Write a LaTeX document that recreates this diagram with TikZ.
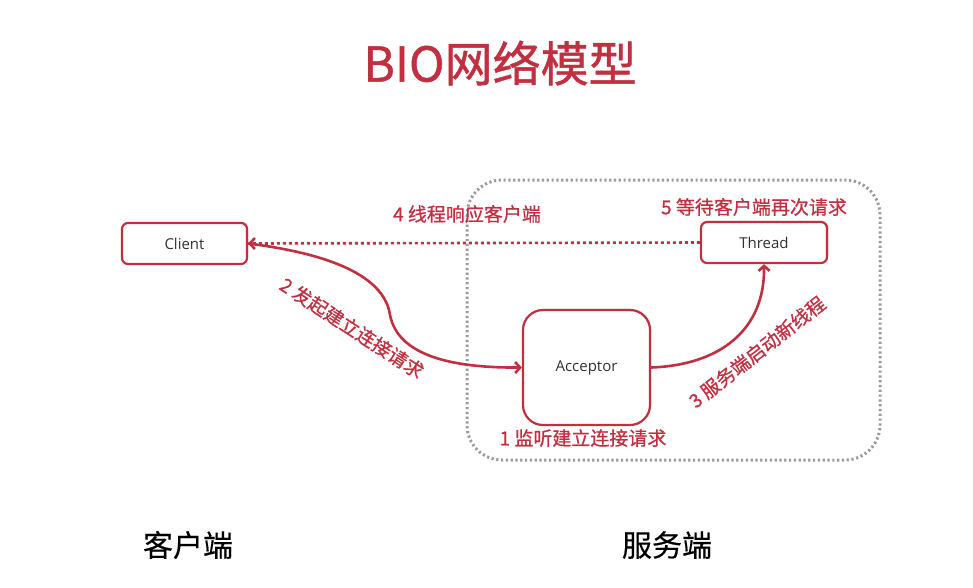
\documentclass[tikz,border=0pt]{standalone}
\usepackage{fontspec}
\setmainfont{Noto Sans CJK SC}
\newfontfamily\cjkb[FakeBold=1]{Noto Sans CJK SC}
\newfontfamily\cjkm[FakeBold=0.8]{Noto Sans CJK SC}
\newfontfamily\cjks[FakeBold=0.4]{Noto Sans CJK SC}
\newfontfamily\boxfont{Open Sans}
\usetikzlibrary{arrows.meta,shadows}
\definecolor{bred}{RGB}{192,48,64}
\definecolor{dgray}{RGB}{155,155,155}
\definecolor{tgray}{RGB}{50,50,50}
\tikzset{
  box/.style={draw=bred, line width=2.2pt, fill=white, rounded corners=6pt, font=\boxfont\fontsize{15}{18}\selectfont, text=tgray,
    drop shadow={opacity=0.18, shadow xshift=1.5pt, shadow yshift=1.5pt}},
  conn/.style={draw=bred, line width=2.6pt, -{Straight Barb[length=5pt,width=11pt,line width=2.6pt]}},
  lbl/.style={text=bred, font=\cjkm\fontsize{19}{22}\selectfont, inner sep=0pt},
  side/.style={text=black, font=\cjks\fontsize{30}{34}\selectfont, inner sep=0pt},
}
\begin{document}
\begin{tikzpicture}[x=1pt,y=-1pt]
\useasboundingbox (0,0) rectangle (973,587);
% title
\node[text=bred, font=\cjkb\fontsize{48}{56}\selectfont, inner sep=0pt] (title) at (500,63) {BIO网络模型};
% server region
\draw[dgray, line width=3pt, dash pattern=on 2.2pt off 2.6pt, rounded corners=35pt] (467,180) rectangle (880,460);
% boxes
\node[box, minimum width=125pt, minimum height=41pt] (client) at (184.5,243.5) {Client};
\node[box, minimum width=126pt, minimum height=41pt] (thread) at (764,242.5) {Thread};
\node[box, minimum width=127pt, minimum height=115pt, rounded corners=20pt] (acceptor) at (586.5,367.5) {Acceptor};
% connectors
\draw[conn, dash pattern=on 3pt off 3pt] (thread.west) -- (client.east);
\draw[conn] (client.east) .. controls (340,255) and (385,280) .. (390,315) .. controls (398,355) and (450,368) .. (acceptor.west);
\draw[conn] (acceptor.east) .. controls (720,365) and (765,330) .. (thread.south);
% labels
\node[lbl] (l4) at (467,214) {4 线程响应客户端};
\node[lbl] (l5) at (754,207) {5 等待客户端再次请求};
\node[lbl] (l1) at (583,438) {1 监听建立连接请求};
\node[lbl, rotate=-33] (l2) at (352,328) {2 发起建立连接请求};
\node[lbl, rotate=38] (l3) at (757,352) {3 服务端启动新线程};
% sides
\node[side] (cside) at (188,545) {客户端};
\node[side] (sside) at (667,545) {服务端};
\end{tikzpicture}
\end{document}
